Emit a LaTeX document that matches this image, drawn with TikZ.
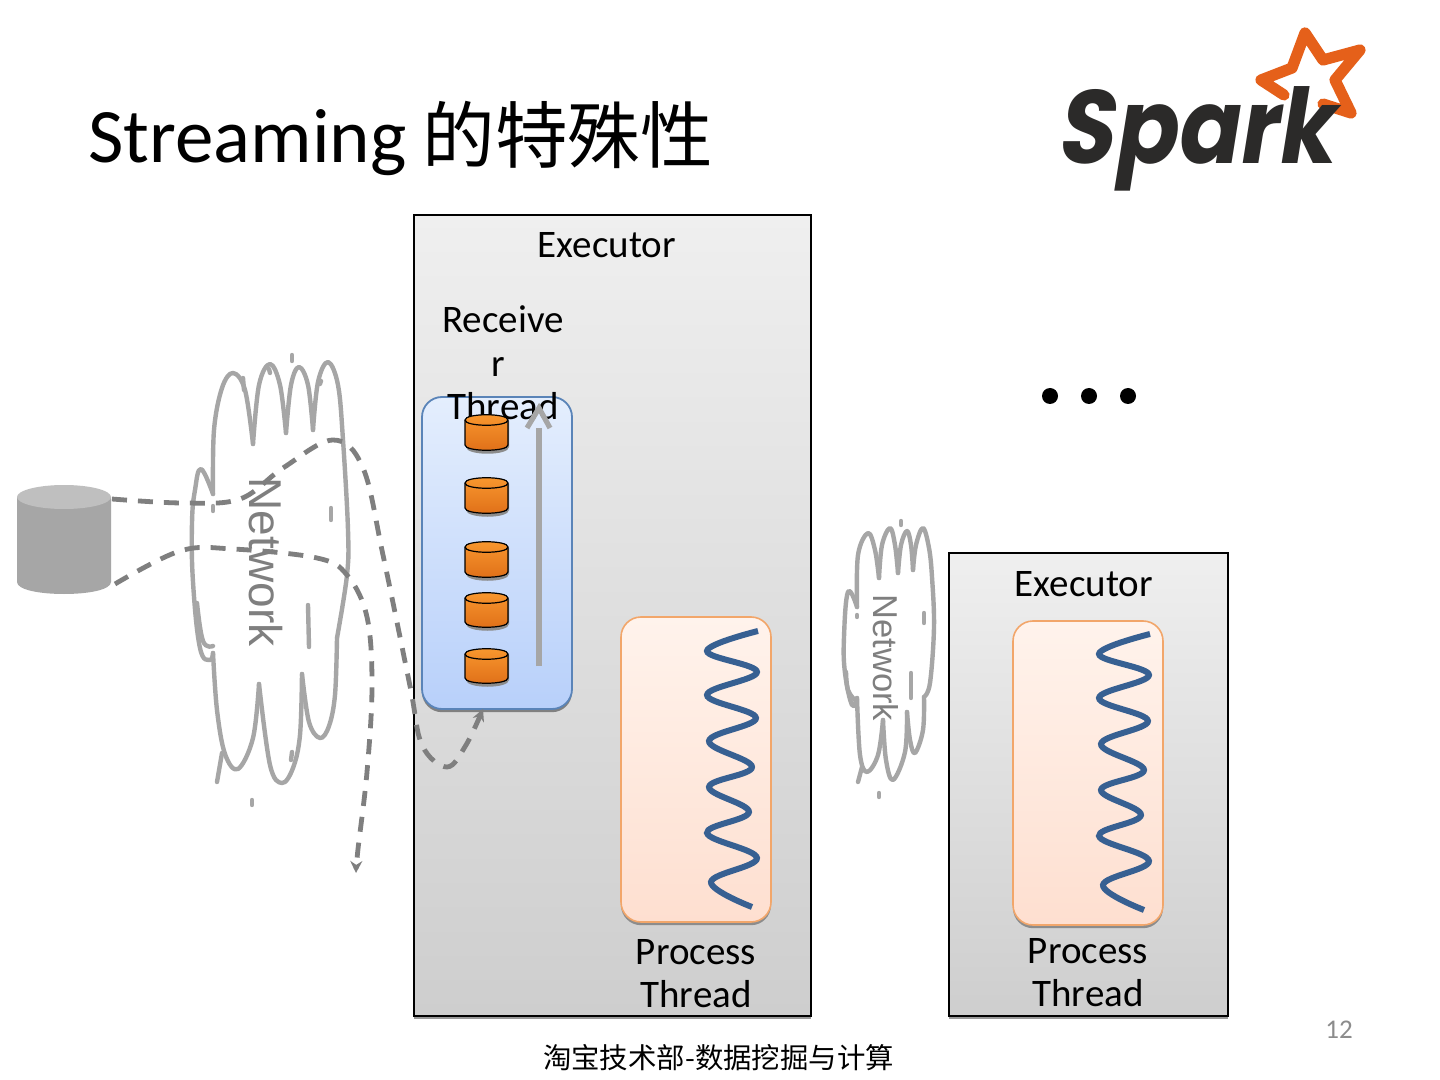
\documentclass[tikz,border=0pt]{standalone}
\usepackage{fontspec}
\setmainfont{Carlito}
\newfontfamily\cjk{Noto Sans CJK SC}
\newfontfamily\arialf{Liberation Sans}
\newfontfamily\logof{Poppins}
\usetikzlibrary{arrows.meta,shadows}
\definecolor{cloudgray}{HTML}{A6A6A6}
\definecolor{dashgray}{HTML}{7F7F7F}
\definecolor{waveblue}{HTML}{376092}
\definecolor{exectop}{HTML}{EFEFEF}
\definecolor{execbot}{HTML}{CECECE}
\definecolor{recvtop}{HTML}{E4EEFD}
\definecolor{recvbot}{HTML}{B8D0FA}
\definecolor{recvedge}{HTML}{5A84B8}
\definecolor{proctop}{HTML}{FFF3EC}
\definecolor{procbot}{HTML}{FEDFD0}
\definecolor{procedge}{HTML}{F2A66A}
\definecolor{cantop}{HTML}{F9982F}
\definecolor{canbot}{HTML}{DF6F18}
\definecolor{starorange}{HTML}{E5601A}
\definecolor{logoink}{HTML}{2B2A29}
\tikzset{
  lbl/.style={inner sep=0pt,outer sep=0pt,font=\fontsize{19.5}{22}\selectfont,text=black},
  netlbl/.style={inner sep=0pt,outer sep=0pt,anchor=base,rotate=-90,text=dashgray},
  execbox/.style={rectangle,draw=black,line width=0.75pt,top color=exectop,bottom color=execbot,inner sep=0pt,outer sep=0pt,
     drop shadow={shadow xshift=0pt,shadow yshift=-1.5pt,fill=black!40,opacity=1}},
  recvbox/.style={rectangle,rounded corners=10pt,draw=recvedge,line width=0.9pt,top color=recvtop,bottom color=recvbot,inner sep=0pt,outer sep=0pt,
     drop shadow={shadow xshift=0pt,shadow yshift=-1.6pt,fill=black!50,opacity=1}},
  procbox/.style={rectangle,rounded corners=10pt,draw=procedge,line width=0.8pt,top color=proctop,bottom color=procbot,inner sep=0pt,outer sep=0pt,
     drop shadow={shadow xshift=0pt,shadow yshift=-1.6pt,fill=black!45,opacity=1}},
  cloudline/.style={draw=cloudgray,line width=2.2pt,line cap=round,line join=round},
  dashline/.style={draw=dashgray,line width=2.4pt,dash pattern=on 7.5pt off 5.5pt,
     -{Stealth[length=6pt,width=6pt]}},
  wave/.style={draw=waveblue,line width=3pt},
  dotmark/.style={circle,fill=black,minimum size=8pt,inner sep=0pt},
}
\newcommand{\oilcan}[2]{%
  \fill[black!45] (466,#1+6) -- (466,#2-3) .. controls (466,#2+6) and (509,#2+6) .. (509,#2-3) -- (509,#1+6) -- cycle;
  \shade[top color=cantop,bottom color=canbot,draw=black,line width=0.6pt]
     (465,#1+5) -- (465,#2-5) .. controls (465,#2+2) and (508,#2+2) .. (508,#2-5) -- (508,#1+5)
     .. controls (508,#1-2) and (465,#1-2) .. (465,#1+5) -- cycle;
  \draw[black,line width=0.6pt] (465,#1+5) .. controls (465,#1+12) and (508,#1+12) .. (508,#1+5);
}
\begin{document}
\begin{tikzpicture}[x=0.5pt,y=-0.5pt]
\useasboundingbox (0,0) rectangle (1440,1080);
\fill[white] (0,0) rectangle (1440,1080);

% title
\node[anchor=base west,inner sep=0pt] (title) at (88,163) {\fontsize{38.5}{40}\selectfont Streaming\hspace{8pt}\cjk\fontsize{36.3}{40}\selectfont 的特殊性};

% logo
\draw[draw=starorange,line width=5.6pt,line join=round,line cap=round]
  (1284,95) -- (1261,80) -- (1292,68) -- (1305,33) -- (1323,60) -- (1360,50) -- (1335,80) -- (1351,113) -- (1323,104);
\node[inner sep=0pt,anchor=base,text=logoink,xslant=0.16,xscale=0.88,transform shape] (logo) at (1195,164)
  {\logof\bfseries\fontsize{52}{56}\selectfont Spark};

% executor boxes
\node[execbox,minimum width=198.5pt,minimum height=400.5pt] (exec1) at (612.5,615.5) {};
\node[execbox,minimum width=139.5pt,minimum height=231.5pt] (exec2) at (1088.5,784.5) {};
\node[lbl] (e1t) at (607,245) {Executor};
\node[lbl] (e2t) at (1084,584) {Executor};

% receiver
\node[recvbox,minimum width=75pt,minimum height=156pt] (recv) at (497,553) {};
\node[lbl,anchor=base] (r1) at (503,333) {Receive};
\node[lbl,anchor=base] (r2) at (498,377) {r};
\node[lbl,anchor=base] (r3) at (503,420) {Thread};
\oilcan{415}{450}
\oilcan{478}{513}
\oilcan{542}{577}
\oilcan{593}{627}
\oilcan{649}{683}
\coordinate (gA) at (539,666);
\coordinate (gB) at (539,428);
\coordinate (gC) at (539,408);
\draw[cloudgray,line width=3pt] (gA) -- (gB);
\draw[cloudgray,line width=2.6pt] (527,428) -- (gC) -- (550,428);

% process boxes
\node[procbox,minimum width=75pt,minimum height=152.5pt] (p1) at (696,769.5) {};
\node[procbox,minimum width=75pt,minimum height=152pt] (p2) at (1088,773) {};
\node[lbl,anchor=base] (p1a) at (696,964) {Process};
\node[lbl,anchor=base] (p1b) at (696,1007) {Thread};
\node[lbl,anchor=base] (p2a) at (1088,963) {Process};
\node[lbl,anchor=base] (p2b) at (1088,1006) {Thread};

\draw[wave] plot[smooth,tension=0.65] coordinates {(758,631) (707,651) (757,672) (707,695) (756,718) (709,741) (752,767) (709,787) (749,812) (707,833) (757,858) (711,882) (752,907)};
\draw[wave,yshift=-1.5pt,xshift=196pt] plot[smooth,tension=0.65] coordinates {(758,631) (707,651) (757,672) (707,695) (756,718) (709,741) (752,767) (709,787) (749,812) (707,833) (757,858) (711,882) (752,907)};

% dots
\node[dotmark] (d1) at (1050,396) {};
\node[dotmark] (d2) at (1089,396) {};
\node[dotmark] (d3) at (1128,396) {};

% big cylinder
\fill[cloudgray] (17,497) -- (17,582) .. controls (17,598) and (111,598) .. (111,582) -- (111,497) -- cycle;
\fill[black!25] (64,497) ellipse [x radius=47,y radius=12];
\coordinate (cyl1) at (112,499);
\coordinate (cyl2) at (115,584);

% cloud 1
\begin{scope}[cloudline]
\draw plot[smooth,tension=0.6] coordinates {(213,494) (214,430) (222,388) (233,373) (245,390) (253,444)};
\draw plot[smooth,tension=0.6] coordinates {(253,444) (259,385) (270,364) (280,385) (286,433)};
\draw plot[smooth,tension=0.6] coordinates {(286,433) (291,385) (299,367) (308,385) (313,430)};
\draw plot[smooth,tension=0.6] coordinates {(313,430) (318,382) (328,362) (338,385) (343,440) (348,530) (347,575) (337,638)};
\draw plot[smooth,tension=0.6] coordinates {(337,638) (335,695) (329,726) (320,738) (309,722) (302,674)};
\draw plot[smooth,tension=0.6] coordinates {(302,674) (300,735) (293,768) (282,783) (270,765) (259,684)};
\draw plot[smooth,tension=0.6] coordinates {(259,684) (253,738) (238,769) (225,754) (217,710) (213,653)};
\draw plot[smooth,tension=0.7] coordinates {(213,653) (210,660) (200,648) (193,582) (192,523) (195,490) (201,469) (213,494)};
\draw plot[smooth,tension=0.7] coordinates {(197,603) (203,641) (213,646)};
\draw (222,753) -- (217,782);
\draw (252,800) -- (252,805);
\draw (292,355) -- (292,361);
\draw (243,378) -- (244,390);
\draw (269,369) -- (270,373);
\draw (321,381) -- (320,384);
\draw (213,506) -- (213,511);
\draw (331,508) -- (331,520);
\draw (308,605) -- (309,647);
\draw (292,752) -- (291,760);
\end{scope}
\node[netlbl,font=\arialf\fontsize{23}{25}\selectfont] (net1) at (249,562) {Network};

% cloud 2
\begin{scope}[cloudline]
\draw plot[smooth,tension=0.6] coordinates {(857,607) (858,555) (868,533) (875,550) (879,578)};
\draw plot[smooth,tension=0.6] coordinates {(879,578) (882,545) (890,528) (895,545) (898,573)};
\draw plot[smooth,tension=0.6] coordinates {(898,573) (901,545) (907,531) (911,545) (913,570)};
\draw plot[smooth,tension=0.6] coordinates {(913,570) (916,545) (923,528) (929,548) (932,577) (934,627) (930,683) (924,697)};
\draw plot[smooth,tension=0.6] coordinates {(924,697) (923,730) (915,753) (910,740) (907,712)};
\draw plot[smooth,tension=0.6] coordinates {(907,712) (905,752) (893,780) (886,760) (883,720)};
\draw plot[smooth,tension=0.6] coordinates {(883,720) (878,755) (867,772) (860,755) (857,698)};
\draw plot[smooth,tension=0.7] coordinates {(857,698) (852,705) (845,673) (844,637) (848,592) (857,607)};
\draw plot[smooth,tension=0.7] coordinates {(846,672) (848,690) (855,700)};
\draw (862,767) -- (858,782);
\draw (879,793) -- (879,797);
\draw (901,521) -- (901,525);
\draw (857,615) -- (857,617);
\draw (924,613) -- (924,623);
\draw (911,673) -- (911,698);
\end{scope}
\node[netlbl,font=\arialf\fontsize{17.25}{20}\selectfont] (net2) at (873,658) {Network};

% dashed connectors
\coordinate (end1) at (483,709);
\coordinate (end2) at (356,873);
\draw[dashline] plot[smooth,tension=0.6] coordinates {(cyl1) (183,503) (240,499) (283,468) (333,440) (363,468) (383,555) (410,686) (422,745) (447,767) (466,745) (end1)};
\draw[dashline] plot[smooth,tension=0.6] coordinates {(cyl2) (180,551) (233,549) (317,558) (347,575) (367,617) (372,686) (367,772) (358,849) (end2)};

% footer
\node[inner sep=0pt,text=black!45,font=\fontsize{13.5}{15}\selectfont] (pg) at (1339,1030) {12};
\node[inner sep=0pt,font=\cjk\fontsize{14.2}{16}\selectfont] (foot) at (718.5,1058) {淘宝技术部-数据挖掘与计算};
\end{tikzpicture}
\end{document}
